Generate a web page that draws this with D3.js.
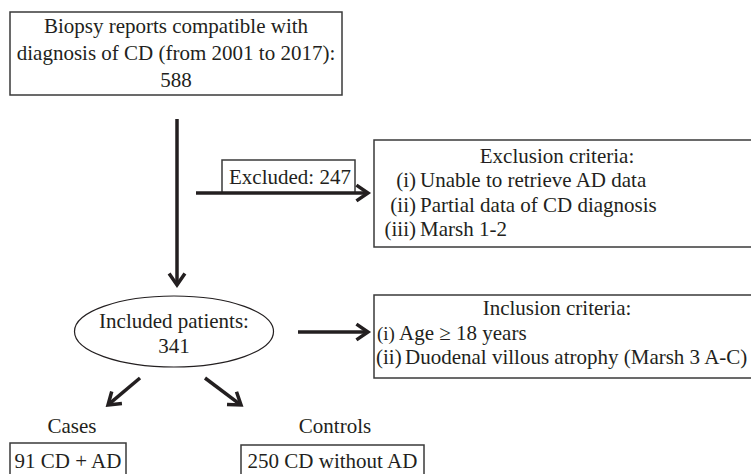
<!DOCTYPE html>
<html>
<head>
<meta charset="utf-8">
<script src="https://cdn.jsdelivr.net/npm/d3@7"></script>
<style>
  body { margin: 0; background: white; }
  text { font-family: "Liberation Serif", "DejaVu Serif", serif; fill: #231f20; }
</style>
</head>
<body>
<div id="chart"></div>
<script>
// flow counts
const totalReports = 588;
const excludedCount = 247;
const includedCount = 341;
const groupNames = ["Cases", "Controls"];
const groupCounts = [91, 250];
const groupLabels = ["CD + AD", "CD without AD"];

// criteria text
const topLines = ["Biopsy reports compatible with", "diagnosis of CD (from 2001 to 2017):"];
const exclusionTitle = "Exclusion criteria:";
const exclusionNums = ["(i)", "(ii)", "(iii)"];
const exclusionItems = ["Unable to retrieve AD data", "Partial data of CD diagnosis", "Marsh 1-2"];
const inclusionTitle = "Inclusion criteria:";
const inclusionNums = ["(i)", "(ii)"];
const inclusionItems = ["Age \u2265 18 years", "Duodenal villous atrophy (Marsh 3 A-C)"];

const width = 751, height = 474;
const ink = "#231f20";
const fs = 21;

const svg = d3.select("#chart")
    .append("svg")
        .attr("width", width)
        .attr("height", height);

const box = (x, y, w, h) => svg.append("rect")
    .attr("x", x).attr("y", y)
    .attr("width", w).attr("height", h)
    .attr("fill", "white")
    .attr("stroke", "#3a3a3a")
    .attr("stroke-width", 1.5);

const label = (x, y, str, anchor = "middle", size = fs) => svg.append("text")
    .attr("x", x).attr("y", y)
    .attr("text-anchor", anchor)
    .style("font-size", `${size}px`)
    .text(str);

// arrow with open chevron head
const arrow = (x1, y1, x2, y2) => {
    const ang = Math.atan2(y2 - y1, x2 - x1);
    const len = 14, spread = 0.6;
    const g = svg.append("g")
        .attr("stroke", ink)
        .attr("stroke-width", 3.5)
        .attr("fill", "none");
    g.append("line")
        .attr("x1", x1).attr("y1", y1)
        .attr("x2", x2 - Math.cos(ang) * 2).attr("y2", y2 - Math.sin(ang) * 2);
    const p = d3.path();
    p.moveTo(x2 - len * Math.cos(ang - spread), y2 - len * Math.sin(ang - spread));
    p.lineTo(x2, y2);
    p.lineTo(x2 - len * Math.cos(ang + spread), y2 - len * Math.sin(ang + spread));
    g.append("path").attr("d", p.toString()).attr("stroke-linejoin", "miter");
};

// top box
box(10, 12, 332, 83);
topLines.concat([String(totalReports)]).forEach((t, i) => label(176, 33 + i * 27, t));

// main vertical arrow
arrow(177, 119, 177, 285);

// excluded branch
box(222, 160, 133, 33);
label(229, 184, `Excluded: ${excludedCount}`, "start");
arrow(196, 193, 368, 193);

box(374, 140, 400, 107);
label(557, 163, exclusionTitle);
exclusionNums.forEach((t, i) => label(416, 187 + i * 24.5, t, "end"));
exclusionItems.forEach((t, i) => label(420, 187 + i * 24.5, t, "start"));

// included ellipse
svg.append("ellipse")
    .attr("cx", 174).attr("cy", 331.5)
    .attr("rx", 99.5).attr("ry", 35.5)
    .attr("fill", "white")
    .attr("stroke", ink)
    .attr("stroke-width", 1.2);
label(174, 328, "Included patients:");
label(174, 353, String(includedCount));

arrow(298, 332, 368, 332);

box(374, 295, 400, 83);
label(557, 315, inclusionTitle);
label(377, 340, inclusionNums[0], "start", 19);
label(399, 340, inclusionItems[0], "start");
label(376, 364, inclusionNums[1], "start");
label(405, 364, inclusionItems[1], "start");

// split into cases / controls
arrow(140, 378, 108, 405);
arrow(205, 378, 241, 405);

label(72, 433, groupNames[0]);
label(335, 433, groupNames[1]);

box(10, 443, 116, 40);
label(68, 468, `${groupCounts[0]} ${groupLabels[0]}`);
box(241, 445, 183, 40);
label(332.5, 468, `${groupCounts[1]} ${groupLabels[1]}`);
</script>
</body>
</html>
